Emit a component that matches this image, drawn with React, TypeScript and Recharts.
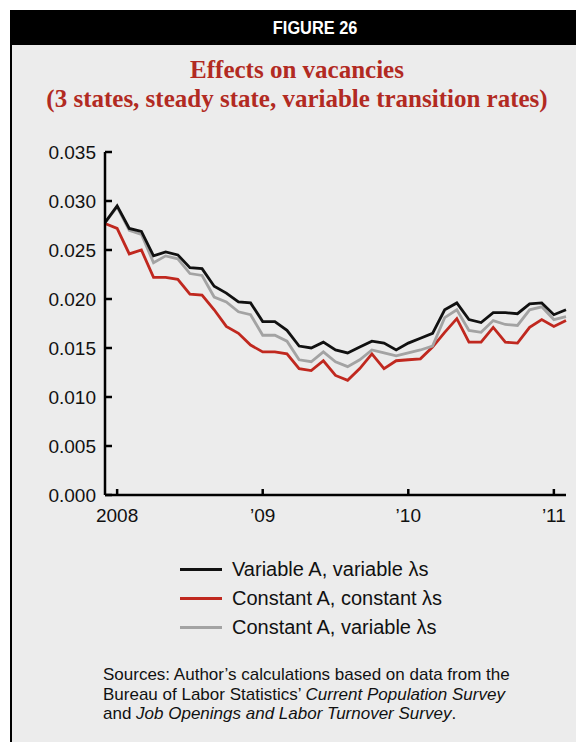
import { LineChart, Line, XAxis, YAxis } from "recharts"

// Monthly, Dec 2007 – Feb 2011
const months: string[] = []
for (let y = 2007; y <= 2011; y++) {
  for (let m = 1; m <= 12; m++) {
    if ((y === 2007 && m < 12) || (y === 2011 && m > 2)) continue
    months.push(`${y}-${String(m).padStart(2, "0")}`)
  }
}

// Variable A, variable λs
const variableAVariableL = [
  0.0278, 0.0295, 0.0272, 0.0269, 0.0244, 0.0248, 0.0245, 0.0232, 0.0231, 0.0213,
  0.0206, 0.0197, 0.0196, 0.0177, 0.0177, 0.0168, 0.0152, 0.015, 0.0156, 0.0148,
  0.0145, 0.0151, 0.0157, 0.0155, 0.0148, 0.0155, 0.016, 0.0165, 0.0189, 0.0196,
  0.0179, 0.0176, 0.0186, 0.0186, 0.0185, 0.0195, 0.0196, 0.0184, 0.0189,
]

// Constant A, constant λs
const constantAConstantL = [
  0.0277, 0.0272, 0.0246, 0.025, 0.0222, 0.0222, 0.022, 0.0205, 0.0204, 0.0189,
  0.0172, 0.0165, 0.0153, 0.0146, 0.0146, 0.0144, 0.0129, 0.0127, 0.0137, 0.0122,
  0.0117, 0.0129, 0.0144, 0.0129, 0.0137, 0.0138, 0.0139, 0.0151, 0.0166, 0.018,
  0.0156, 0.0156, 0.0171, 0.0156, 0.0155, 0.0171, 0.0179, 0.0172, 0.0178,
]

// Constant A, variable λs
const constantAVariableL = [
  0.0278, 0.0294, 0.027, 0.0266, 0.0237, 0.0244, 0.0241, 0.0226, 0.0224, 0.0202,
  0.0197, 0.0187, 0.0184, 0.0163, 0.0163, 0.0157, 0.0138, 0.0136, 0.0146, 0.0136,
  0.0131, 0.0138, 0.0148, 0.0145, 0.0142, 0.0145, 0.0148, 0.0152, 0.0181, 0.0189,
  0.0168, 0.0166, 0.0178, 0.0174, 0.0173, 0.0189, 0.0192, 0.0179, 0.0182,
]

const yTicks = [0, 0.005, 0.01, 0.015, 0.02, 0.025, 0.03, 0.035]
const xTicks = [1, 13, 25, 37]
const xTickLabels = ["2008", "\u201909", "\u201910", "\u201911"]

const data = months.map((m, i) => ({
  i,
  month: m,
  va: variableAVariableL[i],
  ca: constantAConstantL[i],
  cv: constantAVariableL[i],
}))

const SANS = '"Liberation Sans", Arial, Helvetica, sans-serif'
const BLACK = "#111111"
const RED = "#c0281f"
const GRAY = "#a3a3a3"

const YTick = (props: any) => {
  const { x, y, payload } = props
  return (
    <g>
      <line x1={x + 9} x2={x + 16} y1={y} y2={y} stroke="#000" strokeWidth={2.5} />
      <text x={x} y={y} dy="0.36em" textAnchor="end" fontFamily={SANS} fontSize={19} fill="#111">
        {Number(payload.value).toFixed(3)}
      </text>
    </g>
  )
}

const XTick = (props: any) => {
  const { x, y, payload } = props
  const idx = xTicks.indexOf(payload.value)
  return (
    <g>
      <line x1={x} x2={x} y1={y - 12} y2={y - 19} stroke="#000" strokeWidth={2.5} />
      <text x={x} y={y} dy="0.72em" textAnchor="middle" fontFamily={SANS} fontSize={19} fill="#111">
        {xTickLabels[idx]}
      </text>
    </g>
  )
}

const legendItems = [
  { label: "Variable A, variable \u03bbs", color: BLACK },
  { label: "Constant A, constant \u03bbs", color: RED },
  { label: "Constant A, variable \u03bbs", color: GRAY },
]

export default function App() {
  return (
    <div style={{ position: "relative", width: 576, height: 742, overflow: "hidden", background: "#fff" }}>
      <style>{`body{margin:0}`}</style>
      {/* figure frame */}
      <div
        style={{
          position: "absolute",
          left: 10,
          top: 10,
          width: 580,
          height: 760,
          background: "#ececec",
          borderLeft: "2px solid #000",
          borderTop: "2px solid #000",
          borderRight: "2px solid #000",
        }}
      />
      <div
        style={{
          position: "absolute",
          left: 10,
          top: 10,
          width: 584,
          height: 35,
          background: "#000",
          color: "#fff",
          fontFamily: SANS,
          fontWeight: 700,
          fontSize: 19,
          lineHeight: "35px",
          textAlign: "center",
        }}
      >
        <span style={{ position: "relative", left: 13, display: "inline-block", transform: "scaleX(0.86)" }}>
          FIGURE 26
        </span>
      </div>
      <div
        style={{
          position: "absolute",
          left: 10,
          top: 55,
          width: 574,
          textAlign: "center",
          fontFamily: '"Liberation Serif", "Times New Roman", serif',
          fontWeight: 700,
          fontSize: 25,
          lineHeight: "29px",
          color: "#b22a22",
        }}
      >
        Effects on vacancies
        <br />
        (3 states, steady state, variable transition rates)
      </div>

      <div style={{ position: "absolute", left: 0, top: 0 }}>
        <LineChart width={576} height={540} data={data} margin={{ top: 152, right: 10, bottom: 10, left: 0 }}>
          <XAxis
            dataKey="i"
            type="number"
            domain={[0, 38]}
            ticks={xTicks}
            interval={0}
            tick={<XTick />}
            tickSize={0}
            tickMargin={13}
            height={35}
            axisLine={{ stroke: "#000", strokeWidth: 2.5 }}
            tickLine={false}
          />
          <YAxis
            type="number"
            domain={[0, 0.035]}
            ticks={yTicks}
            interval={0}
            tick={<YTick />}
            tickSize={0}
            tickMargin={9}
            width={105}
            axisLine={{ stroke: "#000", strokeWidth: 2.5 }}
            tickLine={false}
          />
          <Line type="linear" dataKey="ca" stroke={RED} strokeWidth={2.8} dot={false} isAnimationActive={false} />
          <Line type="linear" dataKey="cv" stroke={GRAY} strokeWidth={2.8} dot={false} isAnimationActive={false} />
          <Line type="linear" dataKey="va" stroke={BLACK} strokeWidth={2.8} dot={false} isAnimationActive={false} />
        </LineChart>
      </div>

      {/* legend */}
      {legendItems.map((it, k) => (
        <div
          key={it.label}
          style={{
            position: "absolute",
            left: 180,
            top: 569 + k * 29 - 14,
            height: 28,
            display: "flex",
            alignItems: "center",
            fontFamily: SANS,
            fontSize: 20,
            color: "#111",
            whiteSpace: "nowrap",
          }}
        >
          <span style={{ display: "inline-block", width: 42, height: 3, background: it.color, marginRight: 10 }} />
          {it.label}
        </div>
      ))}

      {/* sources */}
      <div
        style={{
          position: "absolute",
          left: 103,
          top: 665,
          fontFamily: SANS,
          fontSize: 17,
          lineHeight: "19.5px",
          color: "#111",
          whiteSpace: "nowrap",
        }}
      >
        Sources: Author’s calculations based on data from the
        <br />
        Bureau of Labor Statistics’ <i>Current Population Survey</i>
        <br />
        and <i>Job Openings and Labor Turnover Survey</i>.
      </div>
    </div>
  )
}
